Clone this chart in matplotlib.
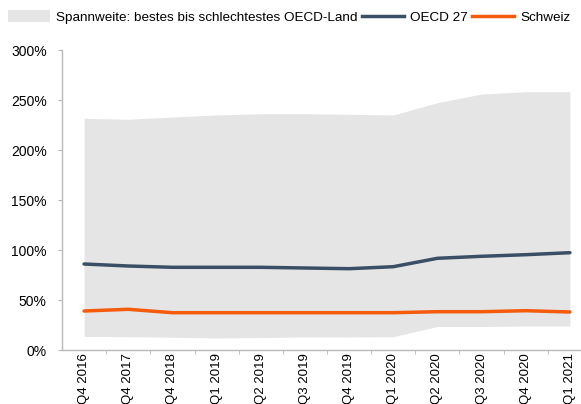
import matplotlib.pyplot as plt
from matplotlib.patches import Patch
from matplotlib.lines import Line2D
from matplotlib.ticker import FuncFormatter

plt.rcParams['font.family'] = ['Liberation Sans', 'DejaVu Sans']

quarters = ["Q4 2016", "Q4 2017", "Q4 2018", "Q1 2019", "Q2 2019", "Q3 2019",
            "Q4 2019", "Q1 2020", "Q2 2020", "Q3 2020", "Q4 2020", "Q1 2021"]
range_low = [13.5, 13.3, 12.8, 12.0, 12.5, 13.0, 13.0, 13.3, 23.5, 23.5, 24.0, 24.0]
range_high = [231.7, 230.7, 233.0, 235.0, 236.3, 236.3, 235.7, 235.0, 247.3, 256.0, 258.3, 258.3]
oecd27 = [86.0, 84.0, 82.7, 82.7, 82.7, 82.0, 81.3, 83.3, 91.7, 93.7, 95.3, 97.3]
schweiz = [39.0, 40.7, 37.3, 37.3, 37.3, 37.3, 37.3, 37.3, 38.3, 38.3, 39.3, 38.0]

fill_col = "#e5e5e5"
oecd_col = "#3a4f66"
ch_col = "#f45b0a"
axis_col = "#b8b8b8"

W, H = 581, 404
fig = plt.figure(figsize=(W / 100, H / 100), dpi=100)
ax = fig.add_axes([62 / W, 54 / H, 530 / W, 300 / H])

x = list(range(len(quarters)))
ax.fill_between(x, range_low, range_high, color=fill_col, linewidth=0)
ax.plot(x, oecd27, color=oecd_col, linewidth=2.5, solid_capstyle="round")
ax.plot(x, schweiz, color=ch_col, linewidth=2.5, solid_capstyle="round")

ax.set_xlim(-0.5, len(quarters) - 0.5)
ax.set_ylim(0, 300)
ax.set_yticks(range(0, 301, 50))
ax.yaxis.set_major_formatter(FuncFormatter(lambda v, p: f"{int(v)}%"))

ax.set_xticks(x)
ax.set_xticklabels(quarters, rotation=90, fontsize=9.5, va="top")
ax.set_xticks([i + 0.5 for i in x[:-1]], minor=True)
ax.tick_params(axis="x", which="major", length=0, pad=2.5)
ax.tick_params(axis="x", which="minor", length=3, color=axis_col, direction="out")
ax.tick_params(axis="y", length=3, color=axis_col, labelsize=10, pad=8)

for side in ["top", "right"]:
    ax.spines[side].set_visible(False)
for side in ["left", "bottom"]:
    ax.spines[side].set_color(axis_col)
    ax.spines[side].set_linewidth(1)

handles = [
    Patch(facecolor=fill_col, edgecolor="none"),
    Line2D([], [], color=oecd_col, linewidth=2.5),
    Line2D([], [], color=ch_col, linewidth=2.5),
]
labels = ["Spannweite: bestes bis schlechtestes OECD-Land", "OECD 27", "Schweiz"]
fig.legend(handles, labels, loc="center left", bbox_to_anchor=(8 / W, 1 - 17 / H),
           ncol=3, frameon=False, fontsize=9.7, handlelength=3.1, handleheight=0.9,
           handletextpad=0.45, columnspacing=0.35, borderaxespad=0, borderpad=0)

fig.savefig("out.png", dpi=100)
